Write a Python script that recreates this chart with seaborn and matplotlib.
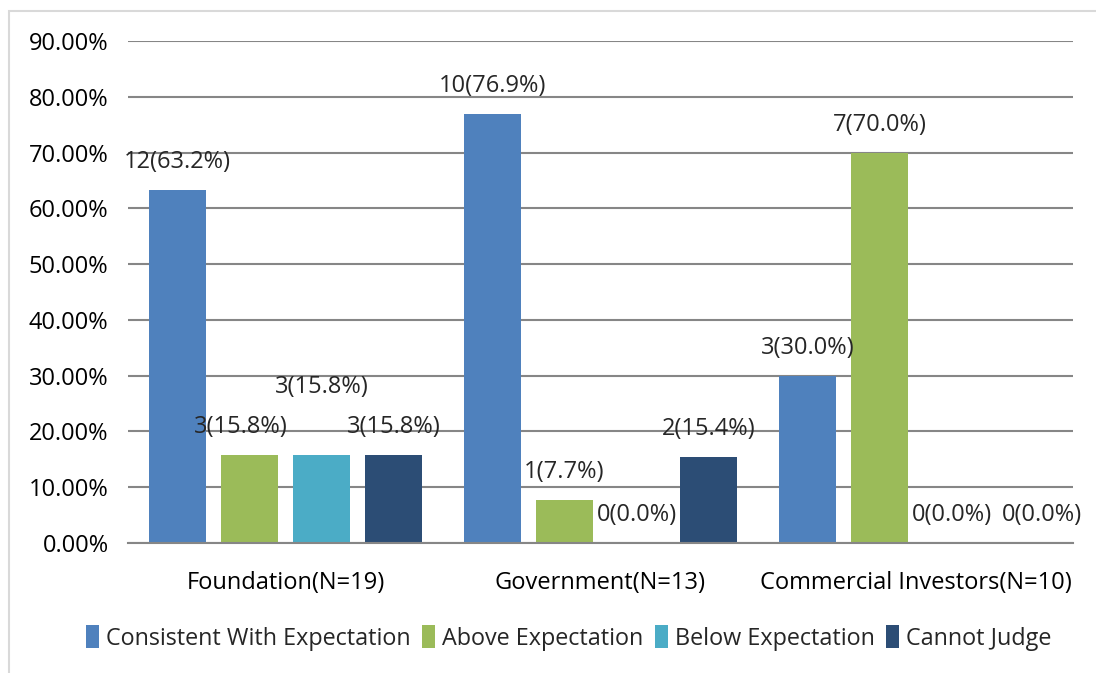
import matplotlib
matplotlib.use("Agg")
import matplotlib.pyplot as plt
import seaborn as sns
import pandas as pd
from matplotlib.patches import Rectangle

categories = ["Foundation(N=19)", "Government(N=13)", "Commercial Investors(N=10)"]
series = ["Consistent With Expectation", "Above Expectation", "Below Expectation", "Cannot Judge"]
counts = {
    "Consistent With Expectation": [12, 10, 3],
    "Above Expectation": [3, 1, 7],
    "Below Expectation": [3, 0, 0],
    "Cannot Judge": [3, 2, 0],
}
percents = {
    "Consistent With Expectation": [63.2, 76.9, 30.0],
    "Above Expectation": [15.8, 7.7, 70.0],
    "Below Expectation": [15.8, 0.0, 0.0],
    "Cannot Judge": [15.8, 15.4, 0.0],
}
yticks = [0, 10, 20, 30, 40, 50, 60, 70, 80, 90]
colors = ["#4F81BD", "#9BBB59", "#4BACC6", "#2C4D75"]

rows = []
for s in series:
    for c, n, p in zip(categories, counts[s], percents[s]):
        rows.append({"category": c, "series": s, "count": n, "percent": p})
df = pd.DataFrame(rows)

sns.set_style("white")
plt.rcParams["font.family"] = ["Open Sans", "DejaVu Sans"]

fig = plt.figure(figsize=(10.96, 6.73), dpi=100)
fig.patches.append(Rectangle((9/1096, -0.1), 1.2, (673-11)/673 + 0.1, transform=fig.transFigure,
                             fill=False, edgecolor="#D9D9D9", linewidth=1.5))
ax = fig.add_axes([128/1096, 1-543/673, (1073-128)/1096, (543-41)/673])

sns.barplot(data=df, x="category", y="percent", hue="series", order=categories,
            hue_order=series, palette=colors, width=0.914, gap=0.21, ax=ax,
            saturation=1, legend=True, errorbar=None, linewidth=0)

ax.set_ylim(0, 90)
ax.set_yticks(yticks)
ax.set_yticklabels([f"{v:.2f}%" for v in yticks], fontsize=17, color="#000000")
ax.tick_params(axis="x", labelsize=17, length=0, pad=20, labelcolor="#000000")
ax.tick_params(axis="y", length=0, pad=14)
ax.set_xlabel("")
ax.set_ylabel("")
ax.set_xlim(-0.5, 2.5)
ax.yaxis.grid(True, color="#868686", linewidth=1.5)
ax.set_axisbelow(True)
for sp in ["top", "right", "left"]:
    ax.spines[sp].set_visible(False)
ax.spines["bottom"].set_color("#868686")
ax.spines["bottom"].set_linewidth(1.5)

# label offsets in pixels (dx, dy) for special cases
offsets = {(2, 0): (0, 68), (1, 0): (-9, 28), (3, 2): (18, 28)}
for si, (s, cont) in enumerate(zip(series, ax.containers)):
    for ci, bar in enumerate(cont):
        dx, dy = offsets.get((si, ci), (0, 28))
        x = bar.get_x() + bar.get_width() / 2
        y = bar.get_height()
        ax.annotate(f"{counts[s][ci]}({percents[s][ci]:.1f}%)", (x, y),
                    xytext=(dx, dy), textcoords="offset pixels",
                    ha="center", va="center", fontsize=17, annotation_clip=False)

handles, labels = ax.get_legend_handles_labels()
ax.legend_.remove()
fig.legend(handles, labels, loc="center", bbox_to_anchor=(0.519, 1-638/673), ncol=4,
           frameon=False, fontsize=16.8, handlelength=0.55, handleheight=1.1,
           handletextpad=0.3, columnspacing=0.5)

fig.savefig("out.png", dpi=100, facecolor="white")
